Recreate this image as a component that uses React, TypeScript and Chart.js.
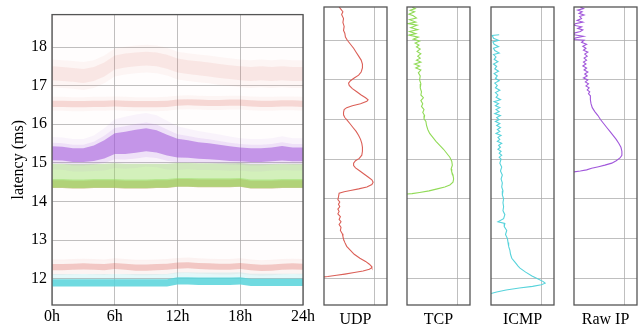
import React, { useEffect, useRef } from "react";
import { Chart, registerables } from "chart.js";
Chart.register(...registerables);

// ---------- shared axis values ----------
const Y_MIN = 11.32;
const Y_MAX = 18.84;
const Y_TICKS = [12, 13, 14, 15, 16, 17, 18];
const X_TICKS = [0, 6, 12, 18, 24];
const X_TICK_LABELS = ["0h", "6h", "12h", "18h", "24h"];
const PANEL_GRID_X = [0.8];

// ---------- main scatter: band centres per hour ----------
const HOURS = [0, 1, 2, 3, 4, 5, 6, 7, 8, 9, 10, 11, 12, 13, 14, 15, 16, 17, 18, 19, 20, 21, 22, 23, 24];
const UDP_17_CENTER = [17.32, 17.3, 17.28, 17.25, 17.3, 17.42, 17.6, 17.65, 17.68, 17.7, 17.68, 17.62, 17.52, 17.48, 17.45, 17.42, 17.38, 17.35, 17.32, 17.3, 17.32, 17.3, 17.32, 17.3, 17.3];
const UDP_16_CENTER = [16.53, 16.53, 16.52, 16.52, 16.53, 16.53, 16.54, 16.53, 16.52, 16.52, 16.52, 16.53, 16.56, 16.57, 16.56, 16.55, 16.55, 16.56, 16.56, 16.54, 16.53, 16.53, 16.54, 16.54, 16.53];
const UDP_14_CENTER = [14.45, 14.45, 14.44, 14.44, 14.45, 14.45, 14.45, 14.44, 14.44, 14.44, 14.45, 14.45, 14.48, 14.48, 14.47, 14.47, 14.47, 14.47, 14.48, 14.44, 14.44, 14.44, 14.45, 14.45, 14.45];
const UDP_12_CENTER = [12.3, 12.3, 12.31, 12.32, 12.31, 12.3, 12.33, 12.31, 12.29, 12.29, 12.3, 12.31, 12.34, 12.35, 12.33, 12.32, 12.31, 12.31, 12.33, 12.3, 12.28, 12.29, 12.31, 12.32, 12.31];
const TCP_CENTER = [14.47, 14.47, 14.46, 14.46, 14.47, 14.47, 14.47, 14.46, 14.46, 14.46, 14.47, 14.47, 14.5, 14.5, 14.49, 14.49, 14.49, 14.49, 14.5, 14.46, 14.46, 14.46, 14.47, 14.47, 14.47];
const TCP_TOP = [14.98, 14.98, 14.97, 14.97, 14.98, 14.98, 14.99, 14.98, 14.98, 14.98, 14.98, 14.98, 15.0, 15.0, 14.99, 14.99, 14.99, 14.99, 15.0, 14.97, 14.97, 14.97, 14.98, 14.98, 14.98];
const ICMP_CENTER = [11.9, 11.9, 11.9, 11.9, 11.9, 11.9, 11.9, 11.9, 11.9, 11.9, 11.9, 11.9, 11.95, 11.95, 11.94, 11.94, 11.94, 11.94, 11.95, 11.91, 11.91, 11.91, 11.91, 11.91, 11.91];
const RAW_CENTER = [15.25, 15.24, 15.2, 15.2, 15.25, 15.35, 15.5, 15.52, 15.56, 15.6, 15.56, 15.46, 15.38, 15.36, 15.32, 15.3, 15.27, 15.24, 15.22, 15.2, 15.2, 15.22, 15.25, 15.22, 15.22];
const RAW_SPREAD = [0.2, 0.2, 0.2, 0.2, 0.22, 0.26, 0.3, 0.32, 0.33, 0.33, 0.32, 0.3, 0.27, 0.25, 0.24, 0.23, 0.22, 0.21, 0.2, 0.2, 0.2, 0.2, 0.21, 0.2, 0.2];

// ---------- side panels: latency (ms) vs density ----------
const UDP_LAT = [18.84, 18.78, 18.72, 18.65, 18.55, 18.45, 18.35, 18.25, 18.18, 18.08, 18.0, 17.9, 17.8, 17.7, 17.6, 17.5, 17.4, 17.3, 17.2, 17.12, 17.05, 16.98, 16.92, 16.86, 16.78, 16.7, 16.62, 16.55, 16.5, 16.46, 16.4, 16.35, 16.3, 16.25, 16.18, 16.12, 16.05, 16.0, 15.9, 15.8, 15.7, 15.6, 15.5, 15.4, 15.3, 15.2, 15.1, 15.02, 14.96, 14.9, 14.84, 14.78, 14.7, 14.62, 14.55, 14.48, 14.42, 14.36, 14.3, 14.25, 14.21, 14.18, 14.14, 14.05, 13.98, 13.92, 13.86, 13.8, 13.74, 13.68, 13.62, 13.55, 13.48, 13.42, 13.35, 13.28, 13.2, 13.12, 13.05, 12.98, 12.9, 12.8, 12.7, 12.6, 12.5, 12.42, 12.35, 12.3, 12.26, 12.22, 12.18, 12.14, 12.1, 12.07, 12.04, 12.03];
const UDP_DENSITY = [0.24, 0.27, 0.3, 0.28, 0.31, 0.3, 0.32, 0.31, 0.33, 0.34, 0.37, 0.42, 0.47, 0.51, 0.55, 0.59, 0.61, 0.61, 0.59, 0.55, 0.48, 0.42, 0.39, 0.4, 0.45, 0.52, 0.59, 0.66, 0.7, 0.68, 0.58, 0.45, 0.36, 0.32, 0.31, 0.31, 0.33, 0.36, 0.41, 0.46, 0.51, 0.55, 0.58, 0.6, 0.61, 0.61, 0.6, 0.56, 0.5, 0.47, 0.47, 0.5, 0.57, 0.64, 0.7, 0.76, 0.78, 0.76, 0.68, 0.55, 0.42, 0.32, 0.24, 0.23, 0.22, 0.25, 0.23, 0.25, 0.22, 0.24, 0.22, 0.26, 0.24, 0.27, 0.24, 0.27, 0.26, 0.29, 0.3, 0.31, 0.33, 0.36, 0.42, 0.48, 0.57, 0.66, 0.72, 0.75, 0.76, 0.72, 0.62, 0.48, 0.33, 0.2, 0.06, 0.0];

const TCP_LAT = [18.84, 18.8, 18.76, 18.72, 18.66, 18.62, 18.56, 18.52, 18.46, 18.42, 18.38, 18.32, 18.27, 18.22, 18.17, 18.13, 18.08, 18.03, 17.98, 17.93, 17.88, 17.83, 17.78, 17.72, 17.66, 17.6, 17.55, 17.5, 17.45, 17.4, 17.35, 17.3, 17.25, 17.18, 17.1, 17.0, 16.9, 16.8, 16.7, 16.62, 16.55, 16.48, 16.4, 16.33, 16.25, 16.18, 16.1, 16.02, 15.95, 15.85, 15.75, 15.65, 15.55, 15.45, 15.35, 15.25, 15.15, 15.05, 14.95, 14.85, 14.75, 14.68, 14.6, 14.5, 14.42, 14.35, 14.3, 14.25, 14.2, 14.16, 14.13, 14.12];
const TCP_DENSITY = [0.08, 0.13, 0.05, 0.12, 0.03, 0.1, 0.15, 0.04, 0.14, 0.02, 0.16, 0.06, 0.17, 0.04, 0.14, 0.03, 0.18, 0.1, 0.2, 0.13, 0.19, 0.15, 0.21, 0.16, 0.22, 0.17, 0.21, 0.15, 0.22, 0.12, 0.2, 0.14, 0.22, 0.18, 0.21, 0.2, 0.22, 0.21, 0.23, 0.22, 0.26, 0.22, 0.25, 0.23, 0.27, 0.25, 0.28, 0.27, 0.3, 0.31, 0.33, 0.36, 0.41, 0.46, 0.52, 0.58, 0.63, 0.68, 0.71, 0.72, 0.7, 0.71, 0.73, 0.74, 0.73, 0.68, 0.6, 0.48, 0.35, 0.2, 0.08, 0.0];

const ICMP_LAT = [18.14, 18.12, 18.05, 18.0, 17.96, 17.9, 17.84, 17.8, 17.74, 17.68, 17.64, 17.58, 17.52, 17.46, 17.4, 17.34, 17.28, 17.22, 17.16, 17.1, 17.04, 16.98, 16.92, 16.86, 16.8, 16.74, 16.68, 16.62, 16.56, 16.5, 16.45, 16.4, 16.35, 16.3, 16.25, 16.2, 16.15, 16.1, 16.05, 16.0, 15.95, 15.9, 15.85, 15.8, 15.75, 15.7, 15.65, 15.6, 15.55, 15.5, 15.45, 15.4, 15.35, 15.3, 15.25, 15.2, 15.15, 15.1, 15.05, 15.0, 14.9, 14.8, 14.7, 14.6, 14.5, 14.4, 14.3, 14.2, 14.1, 14.0, 13.9, 13.8, 13.7, 13.6, 13.5, 13.42, 13.38, 13.3, 13.2, 13.1, 13.0, 12.9, 12.8, 12.7, 12.6, 12.5, 12.4, 12.3, 12.25, 12.15, 12.05, 11.98, 11.91, 11.87, 11.83, 11.79, 11.75, 11.7, 11.65, 11.61];
const ICMP_DENSITY = [0.13, 0.02, 0.04, 0.12, 0.03, 0.05, 0.12, 0.04, 0.06, 0.13, 0.04, 0.08, 0.05, 0.11, 0.04, 0.09, 0.06, 0.12, 0.05, 0.1, 0.07, 0.13, 0.06, 0.1, 0.07, 0.14, 0.07, 0.11, 0.08, 0.15, 0.05, 0.12, 0.07, 0.14, 0.08, 0.13, 0.06, 0.15, 0.09, 0.13, 0.07, 0.14, 0.09, 0.15, 0.1, 0.14, 0.08, 0.16, 0.11, 0.14, 0.1, 0.17, 0.12, 0.15, 0.11, 0.16, 0.13, 0.17, 0.13, 0.16, 0.14, 0.17, 0.15, 0.18, 0.16, 0.18, 0.17, 0.19, 0.18, 0.2, 0.19, 0.2, 0.19, 0.22, 0.2, 0.11, 0.22, 0.21, 0.25, 0.23, 0.26, 0.27, 0.28, 0.3, 0.31, 0.33, 0.38, 0.43, 0.46, 0.55, 0.65, 0.74, 0.83, 0.86, 0.8, 0.66, 0.45, 0.24, 0.09, 0.0];

const RAW_LAT = [18.84, 18.8, 18.76, 18.72, 18.68, 18.64, 18.6, 18.55, 18.5, 18.46, 18.42, 18.38, 18.34, 18.3, 18.26, 18.22, 18.18, 18.14, 18.1, 18.06, 18.02, 18.0, 17.95, 17.9, 17.85, 17.8, 17.75, 17.7, 17.65, 17.6, 17.55, 17.5, 17.45, 17.4, 17.35, 17.3, 17.25, 17.2, 17.15, 17.1, 17.05, 17.0, 16.95, 16.9, 16.85, 16.8, 16.75, 16.7, 16.65, 16.6, 16.5, 16.4, 16.3, 16.2, 16.1, 16.0, 15.9, 15.8, 15.7, 15.6, 15.5, 15.4, 15.3, 15.2, 15.1, 15.03, 14.96, 14.9, 14.85, 14.81, 14.77, 14.73, 14.7, 14.68];
const RAW_DENSITY = [0.1, 0.15, 0.06, 0.13, 0.08, 0.16, 0.09, 0.12, 0.05, 0.14, 0.02, 0.0, 0.12, 0.06, 0.14, 0.1, 0.0, 0.0, 0.15, 0.02, 0.0, 0.16, 0.12, 0.2, 0.14, 0.19, 0.15, 0.22, 0.17, 0.21, 0.16, 0.2, 0.15, 0.19, 0.14, 0.2, 0.16, 0.22, 0.17, 0.21, 0.15, 0.22, 0.18, 0.23, 0.19, 0.24, 0.21, 0.25, 0.23, 0.26, 0.26, 0.27, 0.29, 0.33, 0.38, 0.42, 0.47, 0.52, 0.57, 0.62, 0.67, 0.71, 0.745, 0.76, 0.76, 0.73, 0.67, 0.6, 0.49, 0.39, 0.28, 0.2, 0.1, 0.0];

// ---------- styling ----------
const RED = "219,95,87";
const GREEN = "145,219,87";
const CYAN = "87,211,219";
const PURPLE = "161,87,219";
const FONT = { family: "'Liberation Serif', 'DejaVu Serif', serif", size: 16 };
const GRID = "rgba(170,170,170,0.75)";
const FRAME = "#555";

const framePlugin = {
  id: "frame",
  afterDatasetsDraw(chart: any) {
    const { ctx, chartArea: a } = chart;
    ctx.save();
    ctx.strokeStyle = FRAME;
    ctx.lineWidth = 1.3;
    ctx.strokeRect(a.left, a.top, a.right - a.left, a.bottom - a.top);
    ctx.restore();
  },
};

function band(lower: number[], upper: number[], color: string, alpha: number, order: number) {
  const none = "rgba(0,0,0,0)";
  return [
    {
      data: HOURS.map((h, i) => ({ x: h, y: lower[i] })),
      borderColor: none, borderWidth: 0, pointRadius: 0, fill: false, order,
    },
    {
      data: HOURS.map((h, i) => ({ x: h, y: upper[i] })),
      borderColor: none, borderWidth: 0, pointRadius: 0,
      fill: "-1", backgroundColor: `rgba(${color},${alpha})`, order,
    },
  ];
}
const shift = (arr: number[], d: number) => arr.map((v) => v + d);
const spread = (arr: number[], s: number[], k: number, sign: number) => arr.map((v, i) => v + sign * s[i] * k);

function buildMainDatasets() {
  const bgLow = HOURS.map(() => 12.45);
  const bgHigh = HOURS.map(() => Y_MAX);
  return [
    ...band(bgLow, bgHigh, RED, 0.012, 100),
    ...band(shift(UDP_17_CENTER, -0.36), shift(UDP_17_CENTER, 0.36), RED, 0.05, 90),
    ...band(shift(UDP_17_CENTER, -0.18), shift(UDP_17_CENTER, 0.18), RED, 0.1, 89),
    ...band(shift(UDP_16_CENTER, -0.18), shift(UDP_16_CENTER, 0.18), RED, 0.05, 88),
    ...band(shift(UDP_16_CENTER, -0.08), shift(UDP_16_CENTER, 0.08), RED, 0.2, 87),
    ...band(shift(UDP_12_CENTER, -0.2), shift(UDP_12_CENTER, 0.2), RED, 0.07, 86),
    ...band(shift(UDP_12_CENTER, -0.08), shift(UDP_12_CENTER, 0.08), RED, 0.3, 85),
    ...band(shift(UDP_14_CENTER, -0.1), shift(UDP_14_CENTER, 0.1), RED, 0.4, 84),
    ...band(shift(TCP_CENTER, -0.12), TCP_TOP, GREEN, 0.4, 70),
    ...band(shift(TCP_CENTER, -0.11), shift(TCP_CENTER, 0.11), GREEN, 0.45, 69),
    ...band(shift(ICMP_CENTER, 0.08), shift(ICMP_CENTER, 0.22), CYAN, 0.16, 60),
    ...band(shift(ICMP_CENTER, -0.1), shift(ICMP_CENTER, 0.09), CYAN, 0.85, 59),
    ...band(spread(RAW_CENTER, RAW_SPREAD, 2.1, -1), spread(RAW_CENTER, RAW_SPREAD, 2.1, 1), PURPLE, 0.06, 50),
    ...band(spread(RAW_CENTER, RAW_SPREAD, 1.35, -1), spread(RAW_CENTER, RAW_SPREAD, 1.35, 1), PURPLE, 0.12, 49),
    ...band(spread(RAW_CENTER, RAW_SPREAD, 0.9, -1), spread(RAW_CENTER, RAW_SPREAD, 0.9, 1), PURPLE, 0.55, 48),
  ];
}

function MainChart() {
  const ref = useRef<HTMLCanvasElement>(null);
  useEffect(() => {
    const chart = new Chart(ref.current!, {
      type: "line",
      data: { datasets: buildMainDatasets() as any },
      plugins: [framePlugin],
      options: {
        animation: false, responsive: false, devicePixelRatio: 1,
        layout: { padding: { top: 7, right: 17, left: 0, bottom: 0 } },
        plugins: { legend: { display: false }, tooltip: { enabled: false } },
        elements: { line: { tension: 0 } },
        scales: {
          x: {
            type: "linear", min: 0, max: 24,
            afterBuildTicks: (s: any) => { s.ticks = X_TICKS.map((v) => ({ value: v })); },
            afterFit: (s: any) => { s.height = 23; },
            ticks: {
              font: FONT, color: "#000", padding: 2, maxRotation: 0,
              callback: (v: any) => X_TICK_LABELS[X_TICKS.indexOf(Number(v))],
            },
            grid: { color: GRID, drawTicks: false },
            border: { display: false },
          },
          y: {
            type: "linear", min: Y_MIN, max: Y_MAX,
            afterBuildTicks: (s: any) => { s.ticks = Y_TICKS.map((v) => ({ value: v })); },
            afterFit: (s: any) => { s.width = 52; },
            ticks: { font: FONT, color: "#000", padding: 5 },
            grid: { color: GRID, drawTicks: false },
            border: { display: false },
            title: { display: true, text: "latency (ms)", font: FONT, color: "#000", padding: { top: 9, bottom: 0 } },
          },
        },
      },
    });
    return () => chart.destroy();
  }, []);
  return <canvas ref={ref} width={320} height={328} style={{ position: "absolute", left: 0, top: 0 }} />;
}

function Panel(props: { left: number; label: string; lat: number[]; density: number[]; color: string }) {
  const ref = useRef<HTMLCanvasElement>(null);
  useEffect(() => {
    const chart = new Chart(ref.current!, {
      type: "scatter",
      data: {
        datasets: [{
          data: props.lat.map((y, i) => ({ x: props.density[i], y })),
          showLine: true, borderColor: `rgb(${props.color})`, borderWidth: 1.1, pointRadius: 0, tension: 0,
        }],
      },
      plugins: [framePlugin],
      options: {
        animation: false, responsive: false, devicePixelRatio: 1,
        layout: { padding: { top: 7, right: 10, left: 10, bottom: 0 } },
        plugins: { legend: { display: false }, tooltip: { enabled: false } },
        scales: {
          x: {
            type: "linear", min: 0, max: 1,
            afterBuildTicks: (s: any) => { s.ticks = PANEL_GRID_X.map((v) => ({ value: v })); },
            afterFit: (s: any) => { s.height = 23; },
            ticks: { display: false },
            grid: { color: GRID, drawTicks: false },
            border: { display: false },
            title: { display: true, text: props.label, font: { ...FONT, lineHeight: 1 }, color: "#000", padding: 0 },
          },
          y: {
            type: "linear", min: Y_MIN, max: Y_MAX,
            afterBuildTicks: (s: any) => { s.ticks = Y_TICKS.map((v) => ({ value: v })); },
            afterFit: (s: any) => { s.width = 0; },
            ticks: { display: false },
            grid: { color: GRID, drawTicks: false },
            border: { display: false },
          },
        },
      },
    });
    return () => chart.destroy();
  }, []);
  return <canvas ref={ref} width={83} height={328} style={{ position: "absolute", left: props.left - 10, top: 0 }} />;
}

export default function App() {
  return (
    <div style={{ position: "fixed", left: 0, top: 0, width: 644, height: 328, background: "#fff", overflow: "hidden" }}>
      <MainChart />
      <Panel left={324} label="UDP" lat={UDP_LAT} density={UDP_DENSITY} color={RED} />
      <Panel left={407} label="TCP" lat={TCP_LAT} density={TCP_DENSITY} color={GREEN} />
      <Panel left={491} label="ICMP" lat={ICMP_LAT} density={ICMP_DENSITY} color={CYAN} />
      <Panel left={574} label="Raw IP" lat={RAW_LAT} density={RAW_DENSITY} color={PURPLE} />
    </div>
  );
}
